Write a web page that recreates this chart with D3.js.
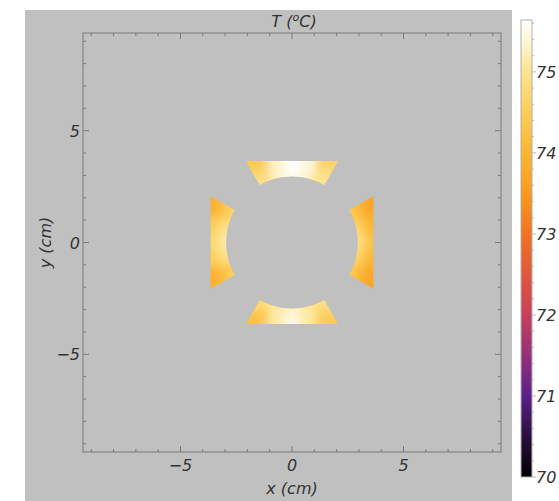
<!DOCTYPE html>
<html>
<head>
<meta charset="utf-8">
<script src="https://cdn.jsdelivr.net/npm/d3@7"></script>
<style>
  body { margin: 0; background: #fff; }
  text { font-family: "DejaVu Sans", sans-serif; font-style: italic; fill: #333; }
</style>
</head>
<body>
<div id="chart"></div>
<script>
// axis ranges (cm) and tick labels
var xDomain = [-9.37, 9.37];
var yDomain = [-9.37, 9.37];
var majorTicks = [-5, 0, 5];
var minorTicks = d3.range(-9, 10, 1);

// colour bar
var tempDomain = [70, 75.64];
var tempTicks = [70, 71, 72, 73, 74, 75];
var stopValues = [70, 70.5, 71, 71.5, 72, 72.5, 73, 73.5, 74, 74.5, 75, 75.3, 75.64];
var stopColors = ['#000000','#2a0f3e','#5b2089','#94307a','#c8405a','#e0563c','#f27321',
                  '#f99a1f','#fbb534','#fccd5a','#fde48f','#fef2c8','#ffffff'];

// geometry of the four pieces (cm, degrees)
var pieceNames = ['top', 'left', 'bottom', 'right'];
var pieceCentre = [90, 180, 270, 0];
var halfAngle = 29.5;
var innerRadius = 2.95;
var outerDistance = 3.65;

// temperature readings (degC), rows: inner, middle, outer
// columns: top/bottom left->right, left/right top->bottom
var tempTop = [
  [74.9, 75.3, 75.55, 75.35, 75.0],
  [74.7, 75.35, 75.64, 75.45, 74.9],
  [74.4, 75.25, 75.64, 75.45, 74.6]
];
var tempLeft = [
  [74.6, 75.0, 75.2, 75.0, 74.5],
  [74.3, 74.8, 75.0, 74.8, 74.2],
  [73.9, 74.5, 74.7, 74.5, 73.9]
];
var tempBottom = [
  [74.8, 75.1, 75.3, 75.1, 74.9],
  [74.5, 75.2, 75.45, 75.2, 74.7],
  [74.2, 75.1, 75.5, 75.1, 74.4]
];
var tempRight = [
  [74.4, 74.7, 74.9, 74.7, 74.4],
  [74.0, 74.4, 74.7, 74.4, 74.0],
  [73.7, 74.0, 74.2, 74.0, 73.7]
];
var pieceTemps = [tempTop, tempLeft, tempBottom, tempRight];
// column direction: sign of angle change from first to last column
var pieceDir = [-1, 1, 1, -1];

var W = 559, H = 501;
var svg = d3.select('#chart').append('svg')
    .attr('width', W).attr('height', H);

// gray plot background
svg.append('rect')
    .attr('x', 25).attr('y', 10)
    .attr('width', 512 - 25).attr('height', H - 10)
    .style('fill', '#c0c0c0');

var xScale = d3.scaleLinear().domain(xDomain).range([83, 501]);
var yScale = d3.scaleLinear().domain(yDomain).range([452, 33]);

var colorScale = d3.scaleLinear()
    .domain(stopValues)
    .range(stopColors)
    .clamp(true);

var defs = svg.append('defs');
var blur = defs.append('filter')
    .attr('id', 'smooth')
    .attr('x', '-50%').attr('y', '-50%')
    .attr('width', '200%').attr('height', '200%')
    .attr('color-interpolation-filters', 'sRGB');
blur.append('feGaussianBlur').attr('stdDeviation', 5);

var rad = Math.PI / 180;
function pt(r, deg) {
    return [xScale(r * Math.cos(deg * rad)), yScale(r * Math.sin(deg * rad))];
}
function outerR(deg, c) {
    return outerDistance / Math.cos((deg - c) * rad);
}

pieceNames.forEach(function(name, k){
    var c = pieceCentre[k];
    var a0 = c - pieceDir[k] * halfAngle,
        a1 = c + pieceDir[k] * halfAngle;

    // clip shape: inner arc + straight outer edge
    var pts = d3.range(0, 41).map(function(i){
        return pt(innerRadius, a0 + (a1 - a0) * i / 40);
    });
    pts.push(pt(outerR(a1, c), a1));
    pts.push(pt(outerR(a0, c), a0));
    defs.append('clipPath').attr('id', 'clip-' + name)
        .append('path')
        .attr('d', 'M' + pts.join('L') + 'Z');

    var g = svg.append('g').attr('clip-path', 'url(#clip-' + name + ')')
        .append('g').attr('filter', 'url(#smooth)');

    var temps = pieceTemps[k];
    var nCol = temps[0].length, nRow = temps.length;
    var cells = [];
    temps.forEach(function(row, i){
        row.forEach(function(t, j){
            cells.push({ i: i, j: j, t: t });
        });
    });

    g.selectAll('.cell')
        .data(cells)
        .enter()
        .append('path')
        .attr('class', 'cell')
        .attr('d', function(d){
            var pad = 8;
            function j0(j){
                var f = j / nCol;
                if (j === 0) f -= pad / (2 * halfAngle);
                if (j === nCol) f += pad / (2 * halfAngle);
                return a0 + (a1 - a0) * f;
            }
            function fr(i){
                var f = i / nRow;
                if (i === 0) f -= 0.6;
                if (i === nRow) f += 0.6;
                return f;
            }
            var s0 = j0(d.j), s1 = j0(d.j + 1);
            var f0 = fr(d.i), f1 = fr(d.i + 1);
            var corner = [];
            [[s0, f0], [s1, f0], [s1, f1], [s0, f1]].forEach(function(p){
                var ro = outerR(p[0], c);
                corner.push(pt(innerRadius + p[1] * (ro - innerRadius), p[0]));
            });
            return 'M' + corner.join('L') + 'Z';
        })
        .style('fill', function(d){ return colorScale(d.t); })
        .style('stroke', function(d){ return colorScale(d.t); })
        .style('stroke-width', 1);
});

// frame and ticks
svg.append('rect')
    .attr('x', xScale(xDomain[0])).attr('y', yScale(yDomain[1]))
    .attr('width', xScale(xDomain[1]) - xScale(xDomain[0]))
    .attr('height', yScale(yDomain[0]) - yScale(yDomain[1]))
    .style('fill', 'none').style('stroke', '#7a7a7a').style('stroke-width', 1);

var tickG = svg.append('g').style('stroke', '#7a7a7a').style('stroke-width', 1);
minorTicks.forEach(function(v){
    var len = majorTicks.indexOf(v) >= 0 ? 6 : 3;
    tickG.append('line').attr('x1', xScale(v)).attr('x2', xScale(v))
        .attr('y1', yScale(yDomain[0])).attr('y2', yScale(yDomain[0]) - len);
    tickG.append('line').attr('x1', xScale(v)).attr('x2', xScale(v))
        .attr('y1', yScale(yDomain[1])).attr('y2', yScale(yDomain[1]) + len);
    tickG.append('line').attr('y1', yScale(v)).attr('y2', yScale(v))
        .attr('x1', xScale(xDomain[0])).attr('x2', xScale(xDomain[0]) + len);
    tickG.append('line').attr('y1', yScale(v)).attr('y2', yScale(v))
        .attr('x1', xScale(xDomain[1])).attr('x2', xScale(xDomain[1]) - len);
});

function fmt(v){ return v < 0 ? '\u2212' + Math.abs(v) : String(v); }

svg.selectAll('.xlab').data(majorTicks).enter().append('text')
    .attr('class', 'xlab')
    .attr('x', function(d){ return xScale(d); })
    .attr('y', 471)
    .attr('text-anchor', 'middle')
    .style('font-size', '16px')
    .text(fmt);

svg.selectAll('.ylab').data(majorTicks).enter().append('text')
    .attr('class', 'ylab')
    .attr('x', 80)
    .attr('y', function(d){ return yScale(d) + 6; })
    .attr('text-anchor', 'end')
    .style('font-size', '16px')
    .text(fmt);

svg.append('text')
    .attr('x', xScale(0)).attr('y', 494)
    .attr('text-anchor', 'middle')
    .style('font-size', '16px')
    .text('x (cm)');

svg.append('text')
    .attr('transform', 'translate(51,' + yScale(0) + ') rotate(-90)')
    .attr('text-anchor', 'middle')
    .style('font-size', '16px')
    .text('y (cm)');

var title = svg.append('text')
    .attr('x', xScale(0) + 2).attr('y', 27)
    .attr('text-anchor', 'middle')
    .style('font-size', '16px');
title.append('tspan').text('T (');
title.append('tspan').attr('dy', -6).style('font-size', '11px').text('o');
title.append('tspan').attr('dy', 6).text('C)');

// colour bar
var cScale = d3.scaleLinear().domain(tempDomain).range([477, 20]);
var grad = defs.append('linearGradient').attr('id', 'cbar')
    .attr('x1', 0).attr('x2', 0).attr('y1', 1).attr('y2', 0);
stopValues.forEach(function(v, i){
    grad.append('stop')
        .attr('offset', (v - tempDomain[0]) / (tempDomain[1] - tempDomain[0]))
        .attr('stop-color', stopColors[i]);
});
svg.append('rect')
    .attr('x', 521).attr('y', cScale(tempDomain[1]))
    .attr('width', 11).attr('height', cScale(tempDomain[0]) - cScale(tempDomain[1]))
    .style('fill', 'url(#cbar)')
    .style('stroke', '#b0b0b0').style('stroke-width', 1);

var cTicks = svg.append('g').style('stroke', '#bbb').style('stroke-width', 1);
d3.range(70, 75.61, 0.2).forEach(function(v){
    var major = Math.abs(v - Math.round(v)) < 0.01;
    cTicks.append('line')
        .attr('x1', 532).attr('x2', 532 + (major ? 4 : 2))
        .attr('y1', cScale(v)).attr('y2', cScale(v));
});

svg.selectAll('.clab').data(tempTicks).enter().append('text')
    .attr('class', 'clab')
    .attr('x', 536)
    .attr('y', function(d){ return cScale(d) + 6; })
    .style('font-size', '16px')
    .text(function(d){ return d; });
</script>
</body>
</html>
